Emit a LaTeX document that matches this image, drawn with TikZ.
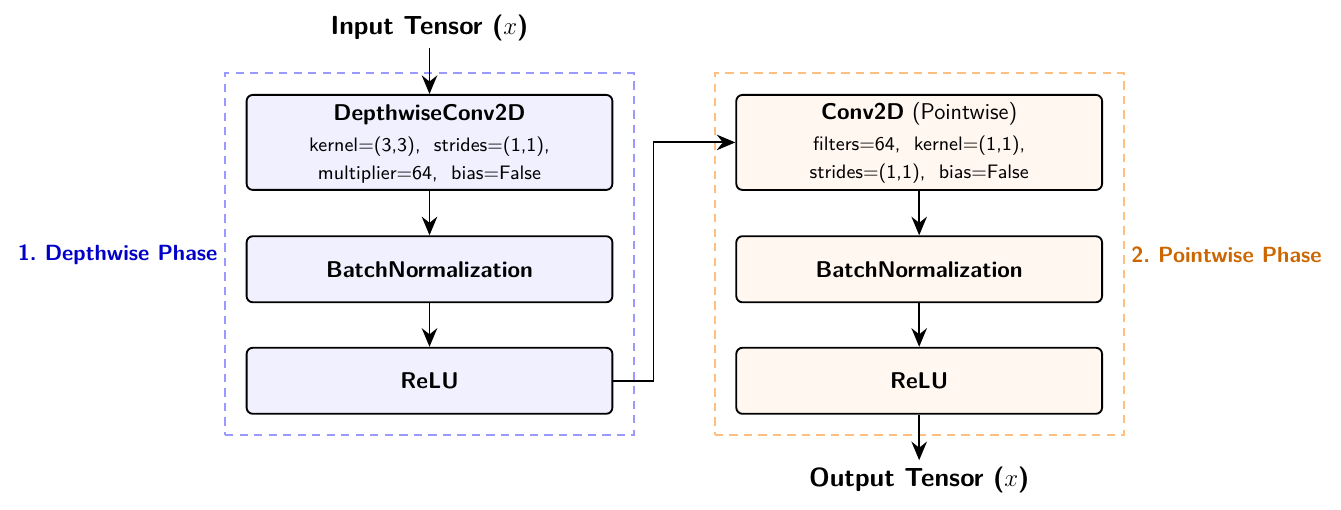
\documentclass[tikz,border=0pt]{standalone}
\usetikzlibrary{
    calc,
    arrows.meta,
    fit,
    positioning
}
\definecolor{dwblue}{RGB}{0,0,200}
\definecolor{pworange}{RGB}{204,102,0}
\tikzset{
  every node/.style={
    font=\sffamily,
    inner sep=3pt
  },
  layerbox/.style={
    draw,
    rounded corners=3pt,
    line width=0.9pt,
    minimum width=6.2cm,
    minimum height=1.12cm,
    align=center
  },
  dwbox/.style={layerbox, fill=blue!6},
  pwbox/.style={layerbox, fill=orange!6},
  titlefont/.style={font=\sffamily\bfseries\fontsize{11}{13}\selectfont},
  phaseframe/.style={
    draw,
    dash pattern=on 4pt off 3pt,
    line width=1pt,
    inner sep=0.35cm
  },
  phaselabel/.style={font=\sffamily\bfseries\fontsize{10.6}{12}\selectfont},
  flow/.style={
    -{Stealth[length=9pt,width=7.5pt,inset=3pt]},
    line width=0.9pt
  }
}
\newcommand{\detail}{\fontsize{9.4}{11}\selectfont}

\begin{document}
\begin{tikzpicture}
    \useasboundingbox (0,0) rectangle (22.73,8.644);

    % 入出力
    \node[font=\sffamily\bfseries\fontsize{12.6}{15}\selectfont] (IN) at (7.28,8.17) {Input Tensor ($x$)};
    \node[font=\sffamily\bfseries\fontsize{12.6}{15}\selectfont] (OUT) at (15.58,0.51) {Output Tensor ($x$)};

    % depthwise
    \node[dwbox, minimum height=1.61cm] (DW) at (7.28,6.23)
      {{\fontsize{11}{13}\selectfont\bfseries\rule{0pt}{9pt}DepthwiseConv2D}\\[3pt]
       \detail kernel=(3,3),\ \ strides=(1,1),\\[1.5pt]
       \detail multiplier=64,\ \ bias=False};
    \node[dwbox, titlefont] (BN1) at (7.28,4.08) {BatchNormalization};
    \node[dwbox, titlefont] (RL1) at (7.28,2.19) {ReLU};

    % pointwise
    \node[pwbox, minimum height=1.61cm] (PW) at (15.58,6.23)
      {{\fontsize{11}{13}\selectfont\rule{0pt}{9pt}\textbf{Conv2D} (Pointwise)}\\[3pt]
       \detail filters=64,\ \ kernel=(1,1),\\[1.5pt]
       \detail strides=(1,1),\ \ bias=False};
    \node[pwbox, titlefont] (BN2) at (15.58,4.08) {BatchNormalization};
    \node[pwbox, titlefont] (RL2) at (15.58,2.19) {ReLU};

    % 枠
    \node[phaseframe, draw=blue!40, fit=(DW)(RL1)] (DWF) {};
    \node[phaseframe, draw=orange!50, fit=(PW)(RL2)] (PWF) {};
    \node[anchor=east, phaselabel, text=dwblue] at (DWF.west) {1.\ Depthwise Phase};
    \node[anchor=west, phaselabel, text=pworange] at (PWF.east) {2.\ Pointwise Phase};

    % 辺
    \draw[flow] (IN) -- (DW);
    \draw[flow] (DW) -- (BN1);
    \draw[flow] (BN1) -- (RL1);
    \draw[flow] (RL1.east) -- ++(0.68,0) |- (PW.west);
    \draw[flow] (PW) -- (BN2);
    \draw[flow] (BN2) -- (RL2);
    \draw[flow] (RL2) -- (OUT);
\end{tikzpicture}
\end{document}
